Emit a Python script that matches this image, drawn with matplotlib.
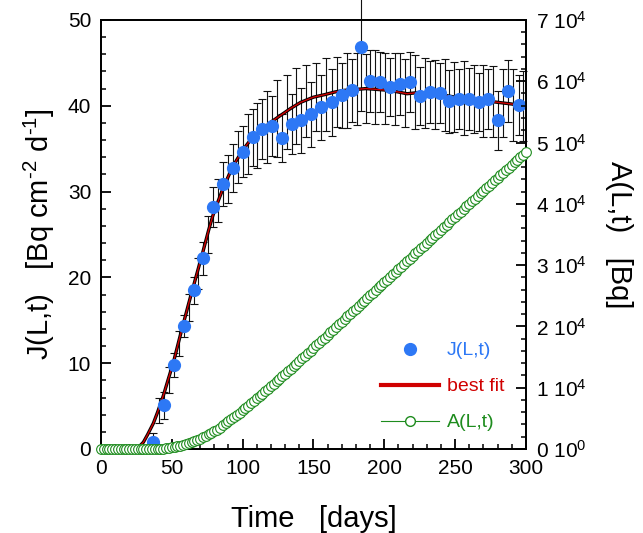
import matplotlib
matplotlib.use("Agg")
import matplotlib.pyplot as plt
from matplotlib.ticker import MultipleLocator, FixedLocator, FixedFormatter
from matplotlib.lines import Line2D

plt.rcParams["font.family"] = ["Liberation Sans", "DejaVu Sans"]
plt.rcParams["mathtext.fontset"] = "custom"
plt.rcParams["mathtext.rm"] = "Liberation Sans"
plt.rcParams["mathtext.it"] = "Liberation Sans:italic"
plt.rcParams["mathtext.bf"] = "Liberation Sans:bold"

# J(L,t) measured points (blue dots)
dot_days = [37, 44.5, 51.5, 58.5, 65.5, 72, 79, 86, 93, 100, 107, 113.5, 120.5,
            127.5, 134.5, 141.5, 148.5, 155.5, 163, 170, 177, 183.5, 190, 197,
            204, 211, 218, 225, 232, 239, 246, 253, 260, 266.5, 273.5, 280.5,
            287.5, 295]
dot_j = [0.85, 5.1, 9.8, 14.3, 18.5, 22.2, 28.2, 30.9, 32.7, 34.65, 36.3, 37.3,
         37.6, 36.2, 37.9, 38.3, 39.0, 39.8, 40.4, 41.2, 41.8, 46.9, 42.9, 42.8,
         42.2, 42.5, 42.8, 41.1, 41.6, 41.5, 40.5, 40.8, 40.8, 40.4, 40.8, 38.3,
         41.7, 40.1]
dot_err = [1.0, 1.6, 1.4, 1.3, 1.6, 1.9, 2.3, 2.6, 2.8, 3.0, 3.3, 3.5, 3.5,
           2.8, 3.5, 3.8, 3.8, 3.8, 3.9, 3.8, 3.7, 7.5, 3.6, 3.5, 3.4, 3.6,
           3.5, 3.4, 3.6, 3.5, 3.7, 3.5, 3.6, 3.4, 3.5, 3.4, 3.6, 3.5]

# intermediate measurements (error bars only)
mid_days = [40.7, 48, 55, 62, 68.7, 75.5, 82.5, 89.5, 96.5, 103.5, 110, 117,
            124, 131, 138, 145, 152, 159, 166.5, 173.5, 180.5, 187, 193.5,
            200.5, 207.5, 214.5, 221.5, 228.5, 235.5, 242.5, 249.5, 256.5,
            263, 270, 277, 284, 291, 298]
mid_j = [4.5, 8.0, 12.3, 16.5, 20.5, 25.0, 29.0, 31.5, 34.0, 35.5, 36.5, 37.5,
         38.5, 39.3, 40.0, 40.5, 41.0, 41.3, 41.6, 41.8, 42.0, 42.0, 42.2,
         42.0, 42.0, 41.5, 41.6, 41.5, 41.3, 41.2, 41.0, 40.9, 40.8, 40.6,
         40.5, 40.3, 40.1, 40.0]
mid_err = [1.5, 1.5, 1.5, 1.6, 1.8, 2.2, 2.5, 2.8, 3.0, 3.5, 3.8, 4.2, 4.5,
           4.3, 4.4, 4.2, 4.0, 4.3, 4.1, 4.4, 4.2, 4.0, 4.3, 4.1, 4.2, 4.0,
           4.3, 4.1, 4.0, 4.2, 4.1, 4.3, 4.0, 4.2, 4.1, 4.0, 4.2, 4.1]

# best fit curve
fit_days = [0, 20, 26, 30, 33, 37, 40, 44, 48, 51, 55, 58, 62, 65, 69, 72, 76,
            79, 83, 86, 90, 93, 97, 100, 105, 111, 116, 120, 127, 134, 141, 150,
            158, 165, 172, 180, 187, 195, 203, 210, 216, 222, 230, 240, 250,
            260, 270, 280, 290, 300]
fit_j = [0, 0, 0.1, 0.8, 1.7, 3.0, 4.3, 6.2, 8.4, 10.0, 12.6, 14.5, 17.0, 18.8,
         21.2, 23.0, 25.5, 27.2, 29.0, 30.3, 31.8, 32.9, 34.0, 34.8, 35.9, 36.8,
         37.5, 38.1, 38.9, 39.7, 40.4, 41.0, 41.3, 41.6, 41.8, 41.9, 42.0,
         41.9, 41.8, 41.6, 41.4, 41.5, 41.5, 41.3, 41.0, 40.8, 40.6, 40.4,
         40.2, 39.9]

# A(L,t) every 2 days, in units of 1e4 Bq
a_days = list(range(0, 301, 2))
a_vals = [0] * 21 + [
    0.003, 0.008, 0.015, 0.022, 0.03, 0.038, 0.046, 0.055, 0.065, 0.078,
    0.092, 0.108, 0.125, 0.145, 0.17, 0.193, 0.217, 0.241, 0.265, 0.29,
    0.315, 0.35, 0.385, 0.42, 0.455, 0.49, 0.525, 0.56, 0.595, 0.632,
    0.67, 0.708, 0.746, 0.785, 0.824, 0.863, 0.902, 0.942, 0.982, 1.022,
    1.062, 1.103, 1.144, 1.185, 1.226, 1.267, 1.309, 1.351, 1.393, 1.435,
    1.477, 1.519, 1.561, 1.604, 1.647, 1.69, 1.733, 1.776, 1.819, 1.862,
    1.905, 1.948, 1.991, 2.034, 2.077, 2.12, 2.163, 2.206, 2.249, 2.292,
    2.335, 2.378, 2.421, 2.463, 2.506, 2.549, 2.592, 2.635, 2.677, 2.72,
    2.763, 2.806, 2.849, 2.891, 2.934, 2.977, 3.02, 3.062, 3.105, 3.148,
    3.191, 3.233, 3.276, 3.319, 3.362, 3.404, 3.447, 3.49, 3.532, 3.575,
    3.618, 3.66, 3.703, 3.746, 3.788, 3.831, 3.873, 3.916, 3.958, 4.001,
    4.043, 4.086, 4.128, 4.17, 4.213, 4.255, 4.297, 4.34, 4.382, 4.424,
    4.466, 4.508, 4.55, 4.592, 4.634, 4.676, 4.718, 4.76, 4.80, 4.84]
a_bq = [v * 1e4 for v in a_vals]

right_ticks = [0, 10000, 20000, 30000, 40000, 50000, 60000, 70000]
right_labels = ["0 10$^{0}$", "1 10$^{4}$", "2 10$^{4}$", "3 10$^{4}$",
                "4 10$^{4}$", "5 10$^{4}$", "6 10$^{4}$", "7 10$^{4}$"]

blue = "#2d78f5"
green = "#1e8c1e"
red = "#d00000"

fig = plt.figure(figsize=(6.43, 5.33), dpi=100)
ax = fig.add_axes([0.157, 0.1576, 0.661, 0.805])
ax2 = ax.twinx()

# error bars
ax.errorbar(mid_days, mid_j, yerr=mid_err, fmt="none", ecolor="#111111",
            elinewidth=0.8, capsize=3, capthick=0.8, zorder=2, clip_on=False)
ax.errorbar(dot_days, dot_j, yerr=dot_err, fmt="none", ecolor="#111111",
            elinewidth=0.8, capsize=3, capthick=0.8, zorder=2, clip_on=False)

# fit
ax.plot(fit_days, fit_j, color="black", lw=2.4, zorder=3, solid_capstyle="round")
ax.plot(fit_days, fit_j, color=red, lw=1.0, zorder=4)

# dots
ax.plot(dot_days, dot_j, "o", color=blue, ms=8.5, mec=blue, zorder=5, clip_on=False)

# A(L,t)
ax2.plot(a_days, a_bq, "o", color=green, mfc="white", mec=green, ms=7,
         mew=0.8, clip_on=False, zorder=3)

ax.set_xlim(0, 300)
ax.set_ylim(0, 50)
ax2.set_ylim(0, 70000)

ax.xaxis.set_major_locator(MultipleLocator(50))
ax.xaxis.set_minor_locator(MultipleLocator(10))
ax.yaxis.set_major_locator(MultipleLocator(10))
ax.yaxis.set_minor_locator(MultipleLocator(2))
ax2.yaxis.set_major_locator(FixedLocator(right_ticks))
ax2.yaxis.set_major_formatter(FixedFormatter(right_labels))
ax2.yaxis.set_minor_locator(MultipleLocator(2000))

for a in (ax, ax2):
    for s in a.spines.values():
        s.set_linewidth(1.3)

ax.tick_params(which="both", direction="in", top=False, right=False,
               labelsize=15, pad=7)
ax.tick_params(which="major", length=7.5, width=1.3)
ax.tick_params(which="minor", length=3.5, width=1.1)
ax2.tick_params(which="both", direction="in", labelsize=15, pad=7)
ax2.tick_params(which="major", length=7.5, width=1.3)
ax2.tick_params(which="minor", length=3.5, width=1.1)

ax.set_xlabel("Time   [days]", fontsize=21, labelpad=20)
ax.set_ylabel(r"J(L,t)   [Bq cm$^{\text{-}2}$ d$^{\text{-}1}$]", fontsize=21, labelpad=8)
ax2.set_ylabel("A(L,t)   [Bq]", fontsize=21, rotation=270, labelpad=34)

handles = [
    Line2D([], [], ls="none", marker="o", color=blue, ms=8.5),
    Line2D([], [], color=red, lw=3),
    Line2D([], [], color=green, lw=0.8, marker="o", mfc="white", mec=green, ms=7),
]
labels = ["J(L,t)", "best fit", "A(L,t)"]
ax2.legend(handles, labels, loc="lower right", bbox_to_anchor=(0.99, 0.0),
           frameon=False, fontsize=14, handlelength=3.0, labelspacing=0.95,
           handletextpad=0.4, labelcolor=[blue, red, green])

fig.savefig("out.png", dpi=100)
